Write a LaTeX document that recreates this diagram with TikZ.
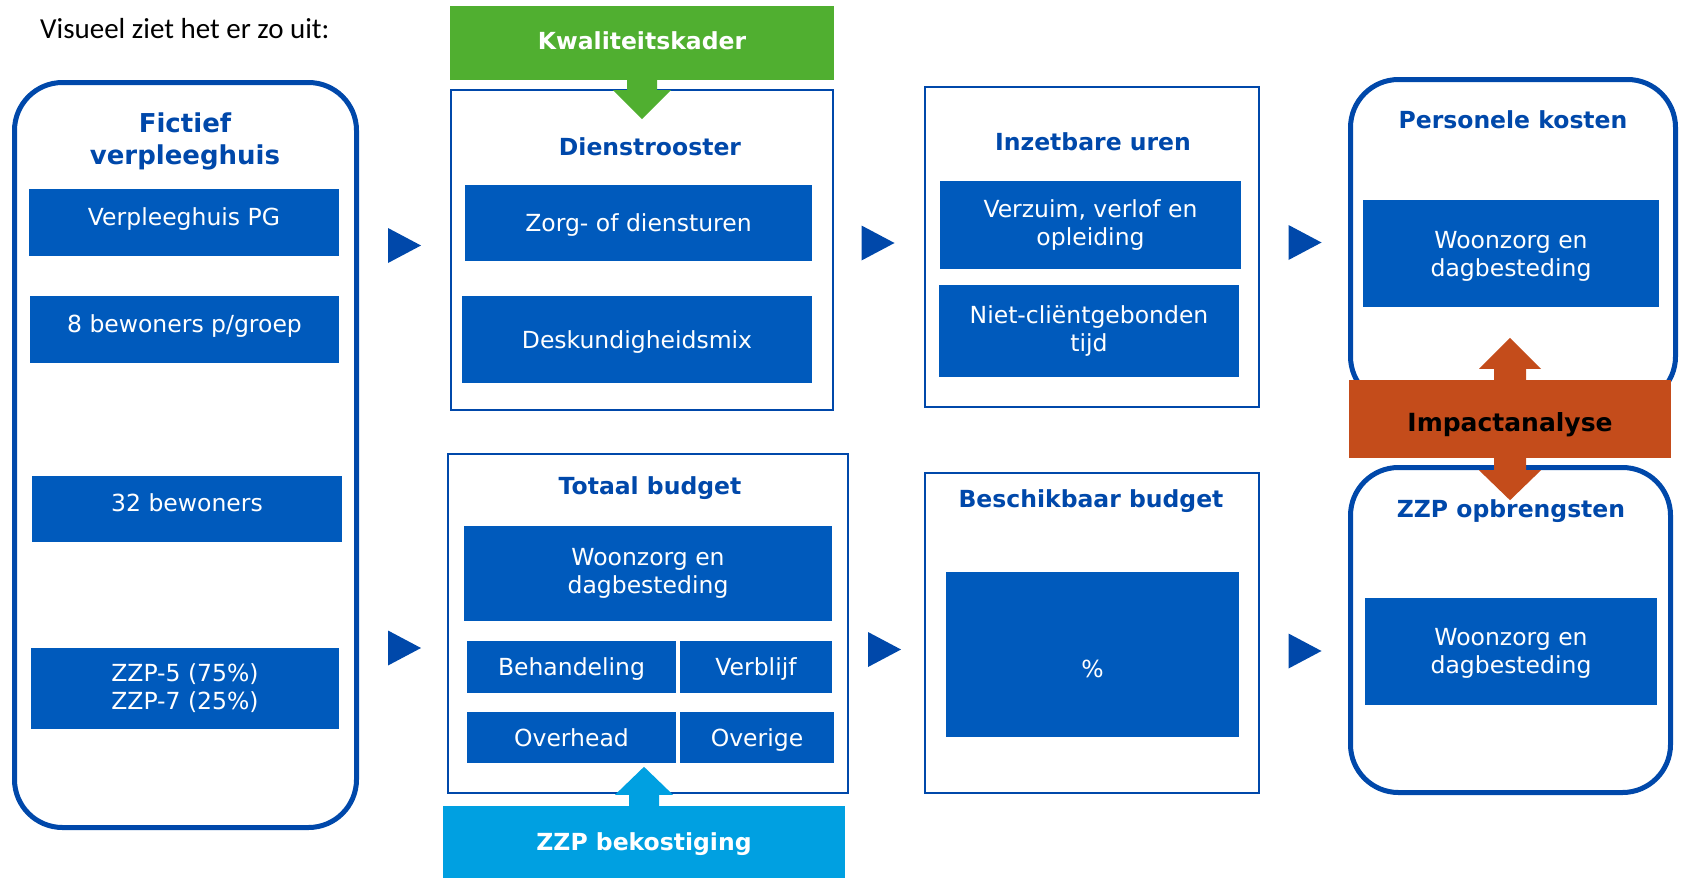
\documentclass[tikz,border=0pt]{standalone}
\usepackage{fontspec}
\setmainfont{DejaVu Sans}
\newfontfamily\calfont{Carlito}
\usetikzlibrary{calc,positioning}
\definecolor{dkblue}{RGB}{0,72,170}
\definecolor{boxblue}{RGB}{0,90,188}
\definecolor{kgreen}{RGB}{80,175,48}
\definecolor{zblue}{RGB}{0,160,225}
\definecolor{impactred}{RGB}{196,76,27}
\newcommand{\itemfont}{\fontsize{23.5}{28}\selectfont}
\newcommand{\ttlfont}{\bfseries\fontsize{23.5}{28}\selectfont}
\tikzset{
    frame/.style={
    rectangle,draw=dkblue,line width=2pt,inner sep=0pt
    },
    rframe/.style={
    rectangle,rounded corners=48pt,draw=dkblue,line width=5pt,inner sep=0pt
    },
    item/.style={
    rectangle,fill=boxblue,text=white,font=\itemfont,align=center,inner sep=0pt
    },
    regel/.style={
    text height=17pt,text depth=0pt
    },
    hoog/.style={
    text height=17pt,text depth=12pt
    },
    titel/.style={
    text=dkblue,font=\ttlfont,align=center,inner sep=0pt
    },
    banner/.style={
    rectangle,text=white,font=\ttlfont,inner sep=0pt
    },
    chev/.pic={
    \fill[dkblue] (-16.5,-17.5) -- (16.5,0) -- (-16.5,17.5) -- cycle;
    },
}
\begin{document}
\begin{tikzpicture}[x=1pt,y=-1pt]
  \useasboundingbox (0,0) rectangle (1683,878);
  \node[anchor=west,inner sep=0pt,font=\calfont\fontsize{29}{34}\selectfont] (intro) at (40,29) {Visueel ziet het er zo uit:};

  % kaders
  \node[rframe,minimum width=342pt,minimum height=745pt] (huis) at (185.5,455) {};
  \node[frame,minimum width=382pt,minimum height=320pt] (dienst) at (642,250) {};
  \node[frame,minimum width=334pt,minimum height=320pt] (inzet) at (1092,247) {};
  \node[frame,minimum width=400pt,minimum height=339pt] (totaal) at (648,623.5) {};
  \node[frame,minimum width=334pt,minimum height=320pt] (beschik) at (1092,633) {};
  \node[rframe,minimum width=325pt,minimum height=325pt] (kosten) at (1513,242) {};
  \node[rframe,minimum width=320pt,minimum height=325pt] (opbr) at (1510.5,630) {};

  % titels
  \node[titel,font=\bfseries\fontsize{26}{32}\selectfont] (huist) at (185,141) {Fictief\\verpleeghuis};
  \node[titel] (dienstt) at (650,147) {Dienstrooster};
  \node[titel] (inzett) at (1093,141.5) {Inzetbare uren};
  \node[titel] (totaalt) at (650,488) {Totaal budget};
  \node[titel] (beschikt) at (1091,501) {Beschikbaar budget};
  \node[titel] (kostent) at (1513,120) {Personele kosten};
  \node[titel] (opbrt) at (1511,511) {ZZP opbrengsten};

  % blokken
  \node[item,hoog,minimum width=310pt,minimum height=67pt] (vph) at (184,222.5) {Verpleeghuis PG};
  \node[item,hoog,minimum width=309pt,minimum height=67pt] (groep) at (184.5,329.5) {8 bewoners p/groep};
  \node[item,hoog,minimum width=310pt,minimum height=66pt] (bew) at (187,509) {32 bewoners};
  \node[item,minimum width=308pt,minimum height=81pt] (zzpmix) at (185,688.5) {ZZP-5 (75\%)\\ZZP-7 (25\%)};

  \node[item,regel,minimum width=347pt,minimum height=76pt] (zorg) at (638.5,223) {Zorg- of diensturen};
  \node[item,regel,minimum width=350pt,minimum height=87pt] (desk) at (637,339.5) {Deskundigheidsmix};

  \node[item,minimum width=301pt,minimum height=88pt] (verzuim) at (1090.5,225) {Verzuim, verlof en\\opleiding};
  \node[item,minimum width=300pt,minimum height=92pt] (niet) at (1089,331) {Niet-cliëntgebonden\\tijd};

  \node[item,minimum width=368pt,minimum height=95pt] (woonb) at (648,573) {Woonzorg en\\dagbesteding};
  \node[item,regel,minimum width=209pt,minimum height=52pt] (behan) at (571.5,667) {Behandeling};
  \node[item,regel,minimum width=152pt,minimum height=52pt] (verbl) at (756,667) {Verblijf};
  \node[item,regel,minimum width=209pt,minimum height=51pt] (overh) at (571.5,737.5) {Overhead};
  \node[item,regel,minimum width=154pt,minimum height=51pt] (overi) at (757,737.5) {Overige};

  \node[item,minimum width=293pt,minimum height=165pt,text height=46pt,text depth=0pt] (pct) at (1092.5,654.5) {\%};

  \node[item,text depth=0pt,minimum width=296pt,minimum height=107pt] (woonk) at (1511,253.5) {Woonzorg en\\dagbesteding};
  \node[item,text depth=0pt,minimum width=292pt,minimum height=107pt] (woono) at (1511,651) {Woonzorg en\\dagbesteding};

  % pijlen tussen de kolommen
  \pic at (404.5,245.5) {chev};
  \pic at (404.5,648) {chev};
  \pic at (878,243) {chev};
  \pic at (884.5,649.5) {chev};
  \pic at (1305,242.5) {chev};
  \pic at (1305,651) {chev};

  % kaders van buiten
  \node[banner,fill=kgreen,minimum width=384pt,minimum height=74pt,text height=17pt,text depth=5pt] (kwal) at (642,43) {Kwaliteitskader};
  \node[banner,fill=zblue,minimum width=402pt,minimum height=72pt,text height=20pt,text depth=3pt] (bekost) at (644,842) {ZZP bekostiging};
  \node[banner,fill=impactred,text=black,minimum width=322pt,minimum height=78pt,
        font=\bfseries\fontsize{25}{30}\selectfont,text height=30pt,text depth=6pt] (impact) at (1510,419) {Impactanalyse};

  \fill[kgreen] (kwal.south) ++(-15,-2) -- ++(0,12) -- ++(-14,0) -- ++(29,29)
    -- ++(29,-29) -- ++(-14,0) -- ++(0,-12) -- cycle;
  \fill[zblue] (bekost.north) ++(-15,2) -- ++(0,-13) -- ++(-14,0) -- ++(29,-28)
    -- ++(29,28) -- ++(-14,0) -- ++(0,13) -- cycle;
  \fill[impactred] (impact.north) ++(-16,2) -- ++(0,-13) -- ++(-15,0) -- ++(31,-31)
    -- ++(31,31) -- ++(-15,0) -- ++(0,13) -- cycle;
  \fill[impactred] (impact.south) ++(-16,-2) -- ++(0,14) -- ++(-15,0) -- ++(31,30)
    -- ++(31,-30) -- ++(-15,0) -- ++(0,-14) -- cycle;
\end{tikzpicture}
\end{document}
